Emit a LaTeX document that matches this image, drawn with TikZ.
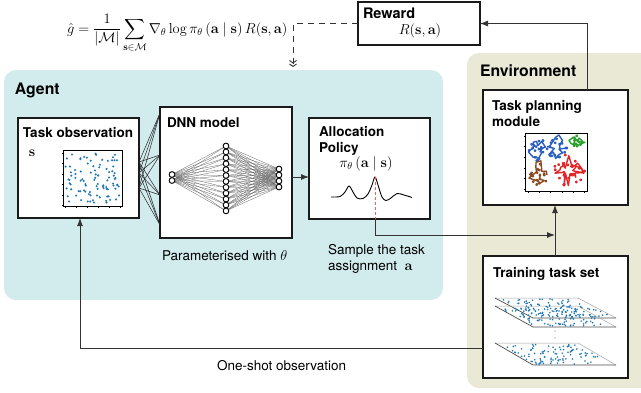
\documentclass[tikz,border=0pt]{standalone}
\usepackage{amsmath}
\usepackage[no-math]{fontspec}
\setmainfont{TeX Gyre Heros}
\usetikzlibrary{arrows.meta,calc}
\definecolor{agentbg}{HTML}{D2EBEC}
\definecolor{envbg}{HTML}{EAE9D6}
\definecolor{boxline}{HTML}{1A1A1A}
\definecolor{dotblue}{HTML}{1F77B4}
\definecolor{pblue}{HTML}{2B5FBF}
\definecolor{pgreen}{HTML}{2CA02C}
\definecolor{pbrown}{HTML}{8C4A20}
\definecolor{pred}{HTML}{E32428}
\definecolor{conncol}{HTML}{333333}
\begin{document}
\begin{tikzpicture}[x=1pt,y=-1pt,
  every node/.append style={inner sep=0pt, outer sep=0pt},
  font=\fontsize{13.5}{16}\selectfont,
  panel/.style={rounded corners=12pt, anchor=north west},
  box/.style={draw=boxline, line width=2pt, fill=white, anchor=north west},
  ttl/.style={font=\fontsize{13.5}{16}\selectfont\bfseries, anchor=base west},
  bigttl/.style={font=\fontsize{15.8}{19}\selectfont\bfseries, anchor=base west},
  lbl/.style={anchor=base west},
  conn/.style={draw=conncol, line width=0.9pt, -{Latex[length=8pt,width=6pt]}},
  dconn/.style={draw=conncol, line width=0.9pt, dash pattern=on 6pt off 5pt,
     -{Straight Barb[length=2.5pt,width=7pt] Straight Barb[length=2.5pt,width=7pt]}},
  neuron/.style={circle, draw=black, fill=white, line width=0.8pt, minimum size=5.6pt},
  nnline/.style={draw=black!60, line width=0.3pt},
  axisln/.style={draw=black, line width=0.6pt},
  tick/.style={draw=black, line width=0.4pt},
  planeback/.style={draw=black!35, line width=0.5pt},
  planefront/.style={draw=black!70, line width=0.7pt}]
\clip (0,0) rectangle (641,392);
\fill[white] (0,0) rectangle (641,392);

% panels
\node[panel, fill=agentbg, minimum width=439pt, minimum height=230pt] (agent) at (4,70) {};
\node[panel, fill=envbg, minimum width=190pt, minimum height=335pt] (env) at (467,53) {};
\node[bigttl] (agentT) at (15,94) {Agent};
\node[bigttl] (envT) at (480,76) {Environment};

% formula and reward
\node[anchor=base west, font=\fontsize{14}{17}\selectfont] (grad) at (67,33)
  {$\displaystyle \hat{g}=\frac{1}{|\mathcal{M}|}\sum_{\mathbf{s}\in\mathcal{M}}\nabla_\theta\log\pi_\theta\left(\mathbf{a}\mid\mathbf{s}\right)R(\mathbf{s},\mathbf{a})$};
\node[box, minimum width=122pt, minimum height=43pt] (reward) at (358,2) {};
\node[ttl, font=\fontsize{14.5}{17}\selectfont\bfseries] (rewardT) at (363,18) {Reward};
\node[anchor=base, font=\fontsize{14.5}{17}\selectfont] (rtext) at (420,34) {$R(\mathbf{s},\mathbf{a})$};

% boxes
\node[box, minimum width=121pt, minimum height=100pt] (obs) at (18,118) {};
\node[box, minimum width=132pt, minimum height=131pt] (dnn) at (160,107) {};
\node[box, minimum width=121pt, minimum height=101pt] (alloc) at (309,118) {};
\node[box, minimum width=145pt, minimum height=115pt] (plan) at (483,90) {};
\node[box, minimum width=145pt, minimum height=122pt] (train) at (483,256) {};

\node[ttl] (obsT) at (23,137) {Task observation};
\node[ttl] (dnnT) at (167,127) {DNN model};
\node[ttl] (allocT1) at (319,136) {Allocation};
\node[ttl] (allocT2) at (319,152) {Policy};
\node[ttl] (planT1) at (492,110) {Task planning};
\node[ttl] (planT2) at (492,126) {module};
\node[ttl] (trainT) at (493,277) {Training task set};

% observation scatter
\node[font=\fontsize{14}{17}\selectfont] (slbl) at (32,153) {$\mathbf{s}$};
\draw[axisln] (63,150) rectangle (122,206);
\foreach \t in {0,...,5} {
  \draw[tick] (63,{153+\t*10.5}) -- ++(-1.5,0);
  \draw[tick] ({65+\t*11},206) -- ++(0,1.5);
}
\pgfmathsetseed{3}
\foreach \k in {1,...,95} {
  \fill[dotblue] ({65.5+rnd*54},{152.5+rnd*51}) circle (1.15pt);
}

% links between observation and DNN
\foreach \a in {44,55,70} {
  \foreach \b in {6,48,88,118} {
    \draw[line width=0.5pt, black!85] ($(obs.north east)+(0,\a)$) -- ($(dnn.north west)+(0,\b)$);
  }
}

% neural network
\node[neuron] (i1) at (172,174.5) {};
\node[neuron] (i2) at (172,180.5) {};
\foreach \j in {1,...,12} { \node[neuron] (h\j) at (226,{146+(\j-1)*5.9}) {}; }
\foreach \o in {1,...,4} { \node[neuron] (o\o) at (279,{169+(\o-1)*6}) {}; }
\foreach \j in {1,...,12} {
  \draw[nnline] (i1) -- (h\j);
  \draw[nnline] (i2) -- (h\j);
  \foreach \o in {1,...,4} { \draw[nnline] (h\j) -- (o\o); }
}
\node[neuron] at (i1) {};
\node[neuron] at (i2) {};
\foreach \j in {1,...,12} { \node[neuron] at (h\j) {}; }
\foreach \o in {1,...,4} { \node[neuron] at (o\o) {}; }

% DNN to policy
\draw[conn] ($(dnn.east)+(0,4.5)$) -- ($(alloc.west)+(0,8.5)$);

% policy
\node[anchor=base, font=\fontsize{14}{17}\selectfont] (pi) at (366,167) {$\pi_\theta\left(\mathbf{a}\mid\mathbf{s}\right)$};
\draw[line width=0.9pt] plot[smooth, tension=0.55] coordinates {(331,197) (340,196.5) (345,192) (349,186) (353,192) (357,198) (363,198.5) (368,194) (372,185) (375,177) (378,185) (382,197) (386,200.5) (391,198) (397,193.5) (404,195) (412,197.5)};
\coordinate (peak) at (375,177);
\draw[red!65, line width=0.9pt, dash pattern=on 3pt off 2pt] (peak) -- (peak |- alloc.south);
\node[lbl] (pLbl) at (162,260) {Parameterised with $\theta$};
\node[lbl] (sLbl1) at (328,254) {Sample the task};
\node[lbl] (sLbl2) at (328,270) {assignment~~$\mathbf{a}$};

% task planning plot
\draw[axisln] (525,133) rectangle (587,191);
\foreach \t in {0,...,5} {
  \draw[tick] (525,{136+\t*10.6}) -- ++(-1.5,0);
  \draw[tick] ({528+\t*11.3},191) -- ++(0,1.5);
}
\pgfmathsetseed{11}
\foreach \cx/\cy/\rx/\ry/\cc/\ns in {537/149/11/14/pblue/16, 556/148/11/14/pblue/16, 576/142/10/8/pgreen/10, 538/175/10/15/pbrown/16, 569/171/17/18/pred/24} {
  \draw[\cc, line width=1.4pt, line join=round] plot[domain=0:360, samples=\ns, mark=*, mark size=0.8pt, mark options={fill=\cc}]
    ({\cx+(0.15+0.85*rnd)*\rx*cos(\x)},{\cy+(0.15+0.85*rnd)*\ry*sin(\x)});
}

% training task set planes
\draw[planeback]  (495,298) -- (578,298) -- (616,318);
\draw[planefront] (495,298) -- (533,318) -- (616,318);
\draw[planeback]  (495,306) -- (578,306) -- (616,327);
\draw[planefront] (495,306) -- (533,327) -- (616,327);
\draw[planeback]  (495,343) -- (578,343) -- (616,365);
\draw[planefront] (495,343) -- (533,365) -- (616,365);
\pgfmathsetseed{5}
\foreach \yo/\hh in {298/20,306/21,343/22} {
  \foreach \k in {1,...,100} {
    \pgfmathsetmacro\uu{rnd}
    \pgfmathsetmacro\vv{rnd}
    \fill[dotblue] ({497+\uu*78+\vv*38},{\yo+1+\vv*(\hh-2)}) circle (0.9pt);
  }
}
\fill[black!55] (555,331) circle (0.6pt) (555,338) circle (0.6pt);

% connectors
\coordinate (joint) at (555,235);
\draw[conn] (peak |- alloc.south) |- (joint);
\draw[conn] (train.north -| joint) -- (plan.south -| joint);
\draw[conn] ($(plan.north east)+(-41,0)$) |- (reward.east);
\draw[dconn] (reward.west) -| ($(agent.north west)+(289,-3)$);
\coordinate (obsIn) at ($(obs.south west)+(62,0)$);
\draw[conn] ($(train.south west)+(0,-30)$) -| (obsIn);
\node[lbl] (oLbl) at (217,370) {One-shot observation};
\end{tikzpicture}
\end{document}
